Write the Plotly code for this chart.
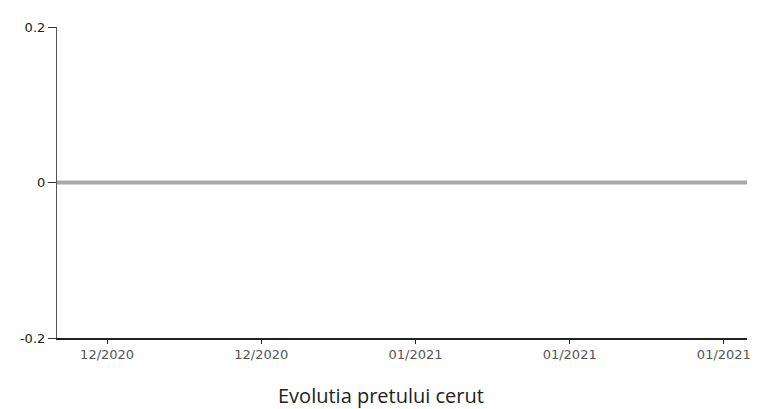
import plotly.graph_objects as go

# data
dates = ["2020-12-12 18:00", "2020-12-16", "2020-12-26", "2021-01-05",
         "2021-01-15", "2021-01-25", "2021-01-26 12:00"]
values = [0, 0, 0, 0, 0, 0, 0]
tick_dates = ["2020-12-16", "2020-12-26", "2021-01-05", "2021-01-15", "2021-01-25"]
tick_labels = ["12/2020", "12/2020", "01/2021", "01/2021", "01/2021"]
y_ticks = [-0.2, 0, 0.2]
y_labels = ["-0.2", "0", "0.2"]
title = "Evolutia pretului cerut"

fig = go.Figure()
fig.add_trace(go.Scatter(
    x=dates, y=values, mode="lines",
    line=dict(color="#a8a8a8", width=4),
    hoverinfo="skip", showlegend=False,
))

fig.update_layout(
    width=755, height=401,
    margin=dict(l=47, r=15, t=17, b=71),
    paper_bgcolor="white", plot_bgcolor="white",
    font=dict(family="DejaVu Sans", size=13, color="#333"),
    xaxis=dict(
        type="date", range=[dates[0], dates[-1]],
        tickmode="array", tickvals=tick_dates, ticktext=tick_labels,
        showgrid=False, zeroline=False,
        showline=True, linecolor="#222", linewidth=1.5,
        ticks="outside", ticklen=4, tickcolor="#222",
        tickfont=dict(size=13, color="#555"),
    ),
    yaxis=dict(
        range=[-0.2, 0.2],
        tickmode="array", tickvals=y_ticks, ticktext=y_labels,
        showgrid=False, zeroline=False,
        showline=True, linecolor="#555", linewidth=1.2,
        ticks="outside", ticklen=8, tickcolor="#333",
        tickfont=dict(size=13, color="#222"),
    ),
    annotations=[dict(
        text=title, xref="paper", yref="paper",
        x=0.47, y=-0.185, xanchor="center", yanchor="middle",
        showarrow=False,
        font=dict(family="Open Sans", size=20, color="#222"),
    )],
)

fig.write_html("out.html")
